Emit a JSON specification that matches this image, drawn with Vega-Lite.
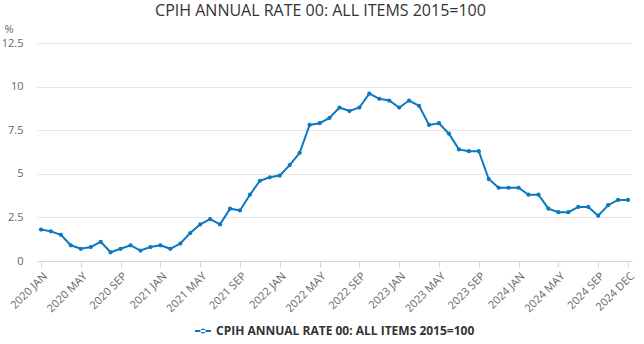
{
  "$schema": "https://vega.github.io/schema/vega-lite/v6.json",
  "width": 595,
  "height": 218,
  "autosize": {"type": "none"},
  "padding": {"left": 37, "top": 43, "right": 12, "bottom": 83},
  "background": "white",
  "config": {
    "font": "Open Sans",
    "view": {"stroke": null}
  },
  "title": {
    "text": "CPIH ANNUAL RATE 00: ALL ITEMS 2015=100",
    "anchor": "middle",
    "fontSize": 16,
    "fontWeight": "normal",
    "color": "#333333",
    "font": "Open Sans",
    "dx": -14,
    "offset": 4
  },
  "data": {
    "values": [
      {"month": "2020 JAN", "value": 1.8, "series": "CPIH ANNUAL RATE 00: ALL ITEMS 2015=100"},
      {"month": "2020 FEB", "value": 1.7, "series": "CPIH ANNUAL RATE 00: ALL ITEMS 2015=100"},
      {"month": "2020 MAR", "value": 1.5, "series": "CPIH ANNUAL RATE 00: ALL ITEMS 2015=100"},
      {"month": "2020 APR", "value": 0.9, "series": "CPIH ANNUAL RATE 00: ALL ITEMS 2015=100"},
      {"month": "2020 MAY", "value": 0.7, "series": "CPIH ANNUAL RATE 00: ALL ITEMS 2015=100"},
      {"month": "2020 JUN", "value": 0.8, "series": "CPIH ANNUAL RATE 00: ALL ITEMS 2015=100"},
      {"month": "2020 JUL", "value": 1.1, "series": "CPIH ANNUAL RATE 00: ALL ITEMS 2015=100"},
      {"month": "2020 AUG", "value": 0.5, "series": "CPIH ANNUAL RATE 00: ALL ITEMS 2015=100"},
      {"month": "2020 SEP", "value": 0.7, "series": "CPIH ANNUAL RATE 00: ALL ITEMS 2015=100"},
      {"month": "2020 OCT", "value": 0.9, "series": "CPIH ANNUAL RATE 00: ALL ITEMS 2015=100"},
      {"month": "2020 NOV", "value": 0.6, "series": "CPIH ANNUAL RATE 00: ALL ITEMS 2015=100"},
      {"month": "2020 DEC", "value": 0.8, "series": "CPIH ANNUAL RATE 00: ALL ITEMS 2015=100"},
      {"month": "2021 JAN", "value": 0.9, "series": "CPIH ANNUAL RATE 00: ALL ITEMS 2015=100"},
      {"month": "2021 FEB", "value": 0.7, "series": "CPIH ANNUAL RATE 00: ALL ITEMS 2015=100"},
      {"month": "2021 MAR", "value": 1.0, "series": "CPIH ANNUAL RATE 00: ALL ITEMS 2015=100"},
      {"month": "2021 APR", "value": 1.6, "series": "CPIH ANNUAL RATE 00: ALL ITEMS 2015=100"},
      {"month": "2021 MAY", "value": 2.1, "series": "CPIH ANNUAL RATE 00: ALL ITEMS 2015=100"},
      {"month": "2021 JUN", "value": 2.4, "series": "CPIH ANNUAL RATE 00: ALL ITEMS 2015=100"},
      {"month": "2021 JUL", "value": 2.1, "series": "CPIH ANNUAL RATE 00: ALL ITEMS 2015=100"},
      {"month": "2021 AUG", "value": 3.0, "series": "CPIH ANNUAL RATE 00: ALL ITEMS 2015=100"},
      {"month": "2021 SEP", "value": 2.9, "series": "CPIH ANNUAL RATE 00: ALL ITEMS 2015=100"},
      {"month": "2021 OCT", "value": 3.8, "series": "CPIH ANNUAL RATE 00: ALL ITEMS 2015=100"},
      {"month": "2021 NOV", "value": 4.6, "series": "CPIH ANNUAL RATE 00: ALL ITEMS 2015=100"},
      {"month": "2021 DEC", "value": 4.8, "series": "CPIH ANNUAL RATE 00: ALL ITEMS 2015=100"},
      {"month": "2022 JAN", "value": 4.9, "series": "CPIH ANNUAL RATE 00: ALL ITEMS 2015=100"},
      {"month": "2022 FEB", "value": 5.5, "series": "CPIH ANNUAL RATE 00: ALL ITEMS 2015=100"},
      {"month": "2022 MAR", "value": 6.2, "series": "CPIH ANNUAL RATE 00: ALL ITEMS 2015=100"},
      {"month": "2022 APR", "value": 7.8, "series": "CPIH ANNUAL RATE 00: ALL ITEMS 2015=100"},
      {"month": "2022 MAY", "value": 7.9, "series": "CPIH ANNUAL RATE 00: ALL ITEMS 2015=100"},
      {"month": "2022 JUN", "value": 8.2, "series": "CPIH ANNUAL RATE 00: ALL ITEMS 2015=100"},
      {"month": "2022 JUL", "value": 8.8, "series": "CPIH ANNUAL RATE 00: ALL ITEMS 2015=100"},
      {"month": "2022 AUG", "value": 8.6, "series": "CPIH ANNUAL RATE 00: ALL ITEMS 2015=100"},
      {"month": "2022 SEP", "value": 8.8, "series": "CPIH ANNUAL RATE 00: ALL ITEMS 2015=100"},
      {"month": "2022 OCT", "value": 9.6, "series": "CPIH ANNUAL RATE 00: ALL ITEMS 2015=100"},
      {"month": "2022 NOV", "value": 9.3, "series": "CPIH ANNUAL RATE 00: ALL ITEMS 2015=100"},
      {"month": "2022 DEC", "value": 9.2, "series": "CPIH ANNUAL RATE 00: ALL ITEMS 2015=100"},
      {"month": "2023 JAN", "value": 8.8, "series": "CPIH ANNUAL RATE 00: ALL ITEMS 2015=100"},
      {"month": "2023 FEB", "value": 9.2, "series": "CPIH ANNUAL RATE 00: ALL ITEMS 2015=100"},
      {"month": "2023 MAR", "value": 8.9, "series": "CPIH ANNUAL RATE 00: ALL ITEMS 2015=100"},
      {"month": "2023 APR", "value": 7.8, "series": "CPIH ANNUAL RATE 00: ALL ITEMS 2015=100"},
      {"month": "2023 MAY", "value": 7.9, "series": "CPIH ANNUAL RATE 00: ALL ITEMS 2015=100"},
      {"month": "2023 JUN", "value": 7.3, "series": "CPIH ANNUAL RATE 00: ALL ITEMS 2015=100"},
      {"month": "2023 JUL", "value": 6.4, "series": "CPIH ANNUAL RATE 00: ALL ITEMS 2015=100"},
      {"month": "2023 AUG", "value": 6.3, "series": "CPIH ANNUAL RATE 00: ALL ITEMS 2015=100"},
      {"month": "2023 SEP", "value": 6.3, "series": "CPIH ANNUAL RATE 00: ALL ITEMS 2015=100"},
      {"month": "2023 OCT", "value": 4.7, "series": "CPIH ANNUAL RATE 00: ALL ITEMS 2015=100"},
      {"month": "2023 NOV", "value": 4.2, "series": "CPIH ANNUAL RATE 00: ALL ITEMS 2015=100"},
      {"month": "2023 DEC", "value": 4.2, "series": "CPIH ANNUAL RATE 00: ALL ITEMS 2015=100"},
      {"month": "2024 JAN", "value": 4.2, "series": "CPIH ANNUAL RATE 00: ALL ITEMS 2015=100"},
      {"month": "2024 FEB", "value": 3.8, "series": "CPIH ANNUAL RATE 00: ALL ITEMS 2015=100"},
      {"month": "2024 MAR", "value": 3.8, "series": "CPIH ANNUAL RATE 00: ALL ITEMS 2015=100"},
      {"month": "2024 APR", "value": 3.0, "series": "CPIH ANNUAL RATE 00: ALL ITEMS 2015=100"},
      {"month": "2024 MAY", "value": 2.8, "series": "CPIH ANNUAL RATE 00: ALL ITEMS 2015=100"},
      {"month": "2024 JUN", "value": 2.8, "series": "CPIH ANNUAL RATE 00: ALL ITEMS 2015=100"},
      {"month": "2024 JUL", "value": 3.1, "series": "CPIH ANNUAL RATE 00: ALL ITEMS 2015=100"},
      {"month": "2024 AUG", "value": 3.1, "series": "CPIH ANNUAL RATE 00: ALL ITEMS 2015=100"},
      {"month": "2024 SEP", "value": 2.6, "series": "CPIH ANNUAL RATE 00: ALL ITEMS 2015=100"},
      {"month": "2024 OCT", "value": 3.2, "series": "CPIH ANNUAL RATE 00: ALL ITEMS 2015=100"},
      {"month": "2024 NOV", "value": 3.5, "series": "CPIH ANNUAL RATE 00: ALL ITEMS 2015=100"},
      {"month": "2024 DEC", "value": 3.5, "series": "CPIH ANNUAL RATE 00: ALL ITEMS 2015=100"}
    ]
  },
  "encoding": {
    "x": {
      "field": "month",
      "type": "ordinal",
      "sort": null,
      "scale": {"type": "point", "padding": 0.4},
      "axis": {
        "title": null,
        "values": ["2020 JAN", "2020 MAY", "2020 SEP", "2021 JAN", "2021 MAY", "2021 SEP", "2022 JAN", "2022 MAY", "2022 SEP", "2023 JAN", "2023 MAY", "2023 SEP", "2024 JAN", "2024 MAY", "2024 SEP", "2024 DEC"],
        "labelAngle": -45,
        "labelAlign": "right",
        "labelBaseline": "top",
        "labelFontSize": 11,
        "labelColor": "#666666",
        "labelFont": "Open Sans",
        "domainColor": "#ccd6eb",
        "tickColor": "#ccd6eb",
        "tickSize": 6,
        "labelPadding": 3,
        "grid": false
      }
    },
    "y": {
      "field": "value",
      "type": "quantitative",
      "scale": {"domain": [0, 12.5], "nice": false, "zero": true},
      "axis": {
        "values": [0, 2.5, 5, 7.5, 10, 12.5],
        "labelExpr": "toString(datum.value)",
        "title": "%",
        "titleAngle": 0,
        "titleAlign": "left",
        "titleBaseline": "alphabetic",
        "titleX": -33,
        "titleY": -11,
        "titleFontSize": 11,
        "titleFontWeight": "normal",
        "titleColor": "#666666",
        "titleFont": "Open Sans",
        "labelFontSize": 11,
        "labelColor": "#666666",
        "labelFont": "Open Sans",
        "labelPadding": 14,
        "ticks": false,
        "domain": false,
        "gridColor": "#e6e6e6",
        "gridWidth": 1
      }
    },
    "color": {
      "field": "series",
      "type": "nominal",
      "scale": {"range": ["#0b78c1"]},
      "legend": {
        "title": null,
        "orient": "none",
        "legendX": 158,
        "legendY": 280,
        "symbolType": "M-1,-0.12H1V0.12H-1Z M-0.32,0A0.32,0.32 0 1,0 0.32,0A0.32,0.32 0 1,0 -0.32,0Z",
        "symbolSize": 256,
        "symbolStrokeWidth": 0,
        "labelFont": "Open Sans",
        "labelFontSize": 12,
        "labelFontWeight": "bold",
        "labelColor": "#333333",
        "labelOffset": 5,
        "labelLimit": 0
      }
    }
  },
  "layer": [
    {"mark": {"type": "line", "strokeWidth": 2}},
    {"mark": {"type": "point", "filled": true, "size": 18, "opacity": 1}}
  ]
}
